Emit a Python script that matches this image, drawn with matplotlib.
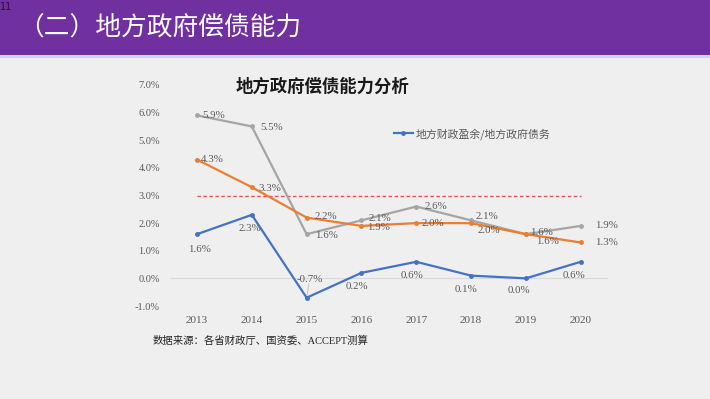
import matplotlib.pyplot as plt
import numpy as np

plt.rcParams['font.family'] = ['Liberation Serif', 'Noto Sans CJK SC', 'DejaVu Sans']

years = ['2013', '2014', '2015', '2016', '2017', '2018', '2019', '2020']
surplus_debt = [1.6, 2.3, -0.7, 0.2, 0.6, 0.1, 0.0, 0.6]      # blue
gray_series = [5.9, 5.5, 1.6, 2.1, 2.6, 2.1, 1.6, 1.9]
orange_series = [4.3, 3.3, 2.2, 1.9, 2.0, 2.0, 1.6, 1.3]
threshold = 3.0
yticks = [-1, 0, 1, 2, 3, 4, 5, 6, 7]

blue = '#4472c4'
orange = '#ed7d31'
gray = '#a5a5a5'
lab = '#595959'

fig = plt.figure(figsize=(7.1, 3.99), dpi=100)
fig.patch.set_facecolor('#efefef')

# purple header band
fig.patches.append(plt.Rectangle((0, 1 - 55 / 399), 1, 55 / 399, transform=fig.transFigure,
                                 facecolor='#7030a0', edgecolor='none'))
fig.patches.append(plt.Rectangle((0, 1 - 57.5 / 399), 1, 2.5 / 399, transform=fig.transFigure,
                                 facecolor='#c9d6ea', edgecolor='none'))
fig.text(0.0, 0.995, '11', fontsize=7, color='#2a1035', va='top', ha='left',
         family=['DejaVu Sans'])
fig.text(18 / 710, 1 - 29 / 399, '（二）地方政府偿债能力', fontsize=18.5, color='white',
         va='center', ha='left', family=['Noto Sans CJK SC'])

ax = fig.add_axes([169.6 / 710, 1 - 306 / 399, 438.5 / 710, 221 / 399])
ax.set_facecolor('#efefef')
x = np.arange(len(years))

ax.axhline(0, color='#d9d9d9', lw=0.8, zorder=1)
ax.plot([0, len(years) - 1], [threshold, threshold], color='#e8504a', lw=1,
        dashes=(2.5, 1.8), zorder=2)
ax.plot(x, gray_series, color=gray, lw=1.6, marker='o', ms=2.5, zorder=3)
ax.plot(x, orange_series, color=orange, lw=1.6, marker='o', ms=2.5, zorder=4)
ax.plot(x, surplus_debt, color=blue, lw=1.6, marker='o', ms=2.5, zorder=5,
        label='地方财政盈余/地方政府债务')

ax.set_xlim(-0.5, len(years) - 0.5)
ax.set_ylim(-1, 7)
ax.set_xticks(x)
ax.set_xticklabels(years)
ax.set_yticks(yticks)
ax.set_yticklabels([f'{v:.1f}%' for v in yticks])
for s in ax.spines.values():
    s.set_visible(False)
ax.tick_params(length=0, labelsize=7.5, colors=lab, pad=0)
ax.tick_params(axis='x', labelsize=8)
ax.tick_params(axis='y', pad=7)
ax.tick_params(axis='x', pad=7)

kw = dict(textcoords='offset points', fontsize=7.8, color=lab, zorder=6)
# blue labels below
blue_off = [(2, -11), (-1, -10), (2, 13), (-3, -10), (-3, -10), (-4, -10), (-5, -9), (-5, -10)]
for i, v in enumerate(surplus_debt):
    dx, dy = blue_off[i]
    ax.annotate(f'{v:.1f}%', (i, v), xytext=(dx, dy), ha='center', va='center', **kw)
ax.annotate('', (2, -0.7), xytext=(2.05, -0.1),
            arrowprops=dict(arrowstyle='-', color='#bfbfbf', lw=0.6))
# gray labels right
gray_off = [(4, 0), (6, -1), (6, -1), (5, 1), (6, 0), (3, 3), (3, 1), (10, 0)]
for i, v in enumerate(gray_series):
    dx, dy = gray_off[i]
    ax.annotate(f'{v:.1f}%', (i, v), xytext=(dx, dy), ha='left', va='center', **kw)
# orange labels right
orange_off = [(3, 0), (5, -1), (6, 1), (4, -1), (4, 0), (5, -5), (7, -5), (10, 0)]
for i, v in enumerate(orange_series):
    dx, dy = orange_off[i]
    ax.annotate(f'{v:.1f}%', (i, v), xytext=(dx, dy), ha='left', va='center', **kw)

ax.legend(loc='upper left', bbox_to_anchor=(0.49, 0.85), frameon=False,
          labelcolor=lab, handlelength=1.7, handletextpad=0.3,
          prop={'family': ['Noto Sans CJK SC'], 'size': 7.8})

fig.text(322 / 710, 1 - 87 / 399, '地方政府偿债能力分析', fontsize=12.5, fontweight='bold',
         color='#1a1a1a', ha='center', va='center', family=['Noto Sans CJK SC'])
fig.text(153 / 710, 1 - 341 / 399, '数据来源：各省财政厅、国资委、ACCEPT测算', fontsize=7.5,
         color='#262626', ha='left', va='center')

fig.savefig('out.png', dpi=100, facecolor=fig.get_facecolor())
